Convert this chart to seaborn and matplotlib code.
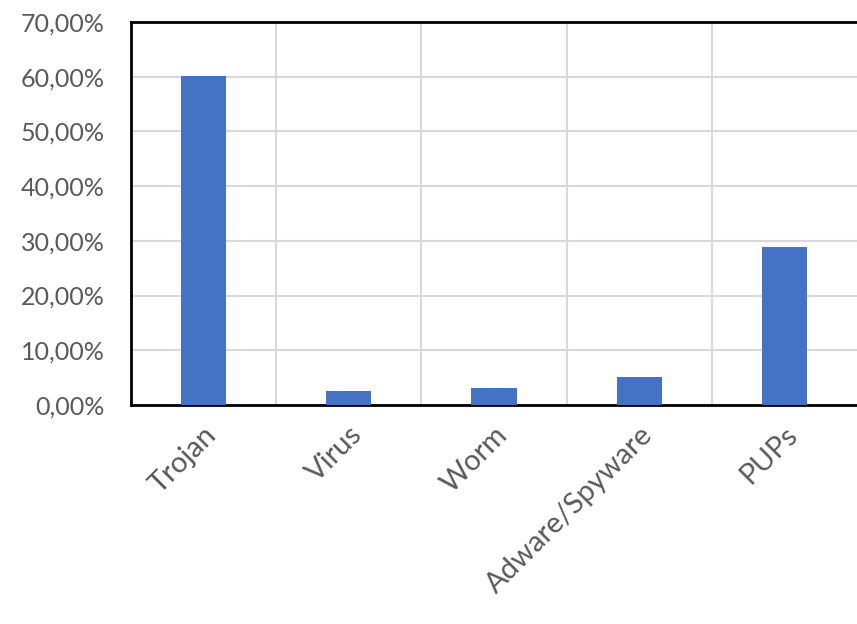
import matplotlib
matplotlib.use("Agg")
import matplotlib.pyplot as plt
import seaborn as sns
import pandas as pd
from matplotlib.ticker import FuncFormatter, MultipleLocator, FixedLocator

categories = ["Trojan", "Virus", "Worm", "Adware/Spyware", "PUPs"]
values = [60.2, 2.55, 3.05, 5.2, 28.9]

sns.set_theme(style="white")
plt.rcParams['font.family'] = ['Lato', 'DejaVu Sans']

df = pd.DataFrame({"cat": categories, "val": values})

fig = plt.figure(figsize=(8.57, 6.24), dpi=100)
ax = fig.add_axes([131/857, (624-405)/624, 1 - 131/857, (405-22)/624])

sns.barplot(data=df, x="cat", y="val", color="#4472C4", width=0.31,
            saturation=1, ax=ax, zorder=3, linewidth=0)

ax.set_ylim(0, 70)
ax.set_xlim(-0.5, len(categories) - 0.5)
ax.yaxis.set_major_locator(MultipleLocator(10))
ax.yaxis.set_major_formatter(FuncFormatter(lambda v, p: f"{v:.2f}%".replace(".", ",")))

ax.grid(axis="y", color="#d9d9d9", linewidth=1.5, zorder=0)
ax.xaxis.set_minor_locator(FixedLocator([i + 0.5 for i in range(len(categories) - 1)]))
ax.grid(axis="x", which="minor", color="#d9d9d9", linewidth=1.5, zorder=0)
ax.grid(axis="x", which="major", visible=False)

for s in ["left", "bottom", "top"]:
    ax.spines[s].set_visible(True)
    ax.spines[s].set_color("black")
    ax.spines[s].set_linewidth(2)
ax.spines["right"].set_visible(False)

ax.set_xlabel("")
ax.set_ylabel("")
ax.tick_params(axis="both", which="both", length=0, colors="#595959")
ax.tick_params(axis="y", pad=19, labelsize=18)
ax.tick_params(axis="x", pad=12, labelsize=21)
plt.setp(ax.get_xticklabels(), rotation=45, ha="right", rotation_mode="anchor")

fig.savefig("out.png", dpi=100)
